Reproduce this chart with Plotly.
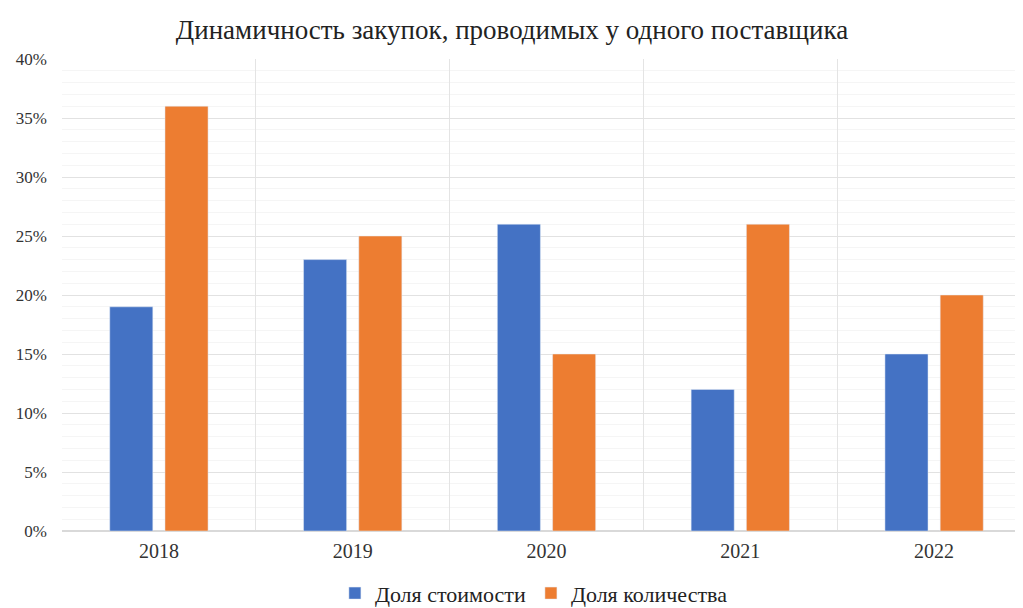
import plotly.graph_objects as go

years = ["2018", "2019", "2020", "2021", "2022"]
share_cost = [0.19, 0.23, 0.26, 0.12, 0.15]
share_qty = [0.36, 0.25, 0.15, 0.26, 0.20]
name_cost = "Доля стоимости"
name_qty = "Доля количества"
title = "Динамичность закупок, проводимых у одного поставщика"

serif = "Liberation Serif, Times New Roman, serif"

fig = go.Figure()
fig.add_trace(go.Bar(x=years, y=share_cost, name=name_cost, marker_color="#4472C4"))
fig.add_trace(go.Bar(x=years, y=share_qty, name=name_qty, marker_color="#ED7D31"))

fig.update_layout(
    width=1023, height=608,
    margin=dict(l=54, r=0, t=51, b=85, autoexpand=False),
    paper_bgcolor="white", plot_bgcolor="white",
    barmode="group", bargap=0.43, bargroupgap=0.22,
    title=dict(text=title, x=0.4927, xanchor="center", y=0.964, yanchor="middle",
               font=dict(family=serif, size=27, color="#222222")),
    font=dict(family=serif, color="#333333"),
    legend=dict(orientation="h", x=0.487, xanchor="center", y=-0.132, yanchor="middle",
                font=dict(family=serif, size=22, color="#222222"),
                itemwidth=30, traceorder="normal"),
    showlegend=True,
)
fig.update_xaxes(
    type="category", range=[-0.5, 4.5], tickson="boundaries",
    showgrid=True, gridcolor="#e4e4e4", gridwidth=1,
    ticks="", showline=False, zeroline=False, automargin=False,
    tickfont=dict(family=serif, size=20, color="#333333"),
    ticklabelstandoff=6,
)
fig.update_yaxes(
    range=[0, 0.40], dtick=0.05, tickformat=".0%",
    showgrid=True, gridcolor="#e2e2e2", gridwidth=1,
    minor=dict(dtick=0.01, showgrid=True, gridcolor="#f5f5f5", gridwidth=1),
    zeroline=True, zerolinecolor="#d9d9d9",
    ticks="", automargin=False,
    tickfont=dict(family=serif, size=17, color="#333333"),
    ticklabelstandoff=14,
)

fig.write_html("out.html")
